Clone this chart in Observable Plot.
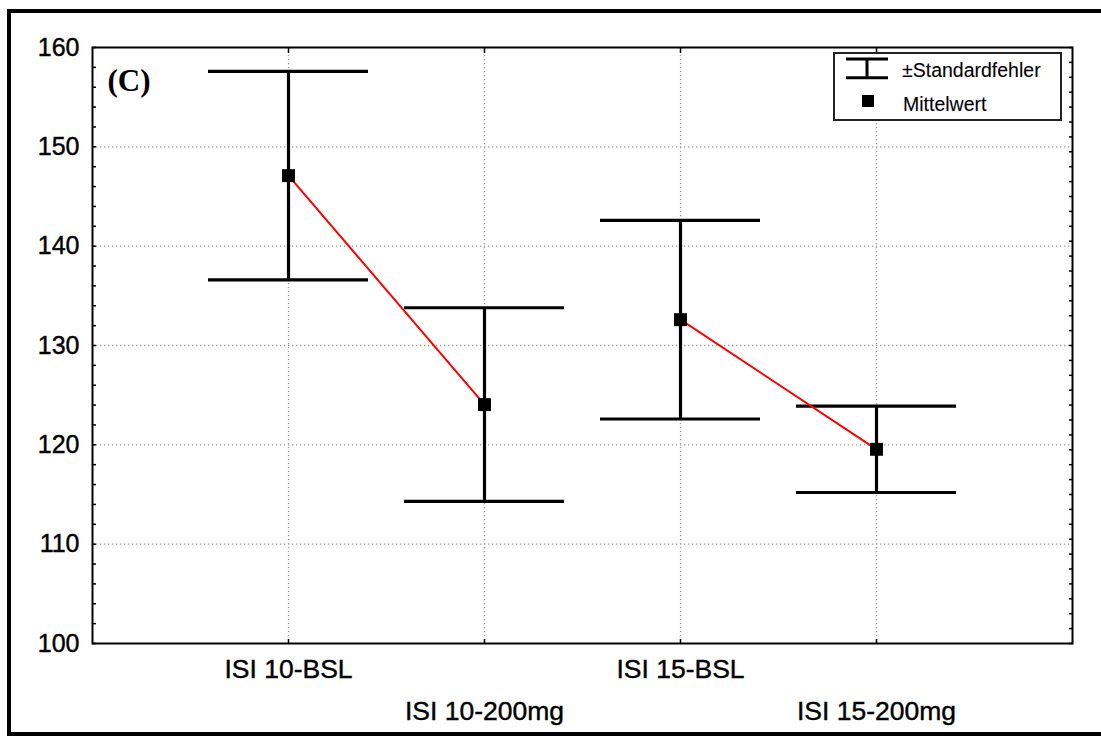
<!DOCTYPE html>
<html>
<head>
<meta charset="utf-8">
<script src="https://cdn.jsdelivr.net/npm/d3@7"></script>
<script src="https://cdn.jsdelivr.net/npm/@observablehq/plot@0.6"></script>
<style>
  html, body { margin: 0; padding: 0; background: #fff; }
  #wrap { position: relative; width: 1101px; height: 736px; overflow: hidden; background: #fff; }
  #chart { position: absolute; left: 0; top: 0; }
  #border { position: absolute; left: 7px; top: 9px; width: 1200px; height: 727px;
            box-sizing: border-box; border: 4px solid #000; pointer-events: none; }
  #legend { position: absolute; left: 833px; top: 52px; width: 229px; height: 69px;
            box-sizing: border-box; border: 2px solid #222; background: #fff; }
  #legend svg { position: absolute; left: 0; top: 0; }
  /* slightly heavier glyphs for the tick labels */
  #chart g[aria-label="y-axis tick label"] text,
  #chart g[aria-label="x-axis tick label"] text { stroke: #000; stroke-width: 0.4px; }
  #legend text { stroke: #000; stroke-width: 0.1px; }
</style>
</head>
<body>
<div id="wrap">
  <div id="chart"></div>
  <div id="legend"></div>
  <div id="border"></div>
</div>
<script>
// Conditions (inter-stimulus interval, baseline vs. 200 mg)
const conditions = ["ISI 10-BSL", "ISI 10-200mg", "ISI 15-BSL", "ISI 15-200mg"];
const groups = ["ISI 10", "ISI 10", "ISI 15", "ISI 15"];
// Means and standard errors
const means = [147.1, 124.05, 132.6, 119.55];
const stdErrors = [10.5, 9.75, 10.0, 4.35];
// Axis ticks
const yMajorTicks = [100, 110, 120, 130, 140, 150, 160];
const yGridTicks = [110, 120, 130, 140, 150];
const yLeftMinorTicks = d3.range(100, 160.01, 2);
const yRightMinorTicks = d3.range(100, 160.01, 1.5);

const rows = conditions.map((c, i) => ({
  cond: c,
  group: groups[i],
  mean: means[i],
  lo: means[i] - stdErrors[i],
  hi: means[i] + stdErrors[i]
}));

const font = "'Liberation Sans', Arial, sans-serif";
const dotted = { stroke: "#9a9a9a", strokeOpacity: 1, strokeDasharray: "1.3,2.7", strokeWidth: 1.3 };

const chart = Plot.plot({
  width: 1101,
  height: 736,
  marginLeft: 92,
  marginRight: 29,
  marginTop: 47,
  marginBottom: 93,
  style: { fontFamily: font, background: "transparent", color: "#000" },
  x: { type: "band", domain: conditions, paddingInner: 0.1837, paddingOuter: 0.5918, axis: null },
  y: { domain: [100, 160], axis: null },
  marks: [
    Plot.gridY(yGridTicks, dotted),
    Plot.gridX(conditions, dotted),
    // inward minor ticks on all four edges
    Plot.axisY(yLeftMinorTicks, { anchor: "left", label: null, tickSize: 4, dx: 4, tickFormat: () => "", strokeWidth: 1.5 }),
    Plot.axisY(yRightMinorTicks, { anchor: "right", label: null, tickSize: 4, dx: -4, tickFormat: () => "", strokeWidth: 1.5 }),
    Plot.axisX(conditions, { anchor: "bottom", label: null, tickSize: 4, dy: -4, tickFormat: () => "", strokeWidth: 1.5 }),
    Plot.axisX(conditions, { anchor: "top", label: null, tickSize: 5, dy: 5, tickFormat: () => "", strokeWidth: 1.5 }),
    // y tick labels
    Plot.axisY(yMajorTicks, { anchor: "left", label: null, tickSize: 0, tickPadding: 13, fontSize: 25, fill: "#000" }),
    // staggered category labels
    Plot.axisX(conditions.filter((d, i) => i % 2 === 0), { anchor: "bottom", label: null, tickSize: 0, tickPadding: 15.5, fontSize: 26.5, fill: "#000" }),
    Plot.axisX(conditions.filter((d, i) => i % 2 === 1), { anchor: "bottom", label: null, tickSize: 0, tickPadding: 57.5, fontSize: 26.5, fill: "#000" }),
    Plot.frame({ stroke: "#000", strokeWidth: 2 }),
    // error bars
    Plot.ruleX(rows, { x: "cond", y1: "lo", y2: "hi", stroke: "#000", strokeWidth: 3.2 }),
    Plot.tickY(rows, { x: "cond", y: "hi", stroke: "#000", strokeWidth: 3.2 }),
    Plot.tickY(rows, { x: "cond", y: "lo", stroke: "#000", strokeWidth: 3.2 }),
    // connecting lines within each ISI group
    Plot.line(rows, { x: "cond", y: "mean", z: "group", stroke: "#ff0000", strokeWidth: 2 }),
    // means
    Plot.dot(rows, { x: "cond", y: "mean", symbol: "square", r: 7.3, fill: "#000", stroke: "none" }),
    // panel label
    Plot.text(["(C)"], { frameAnchor: "top-left", dx: 15, dy: 21, text: d => d, lineAnchor: "top", textAnchor: "start",
                         fontFamily: "'Liberation Serif', 'Times New Roman', serif", fontWeight: "bold", fontSize: 31, fill: "#000" })
  ]
});
document.getElementById("chart").append(chart);

// Legend: standard-error symbol and mean marker
const legendSvg = d3.create("svg").attr("width", 225).attr("height", 65);
const lg = legendSvg.append("g").attr("transform", "translate(-2,-2)");
lg.append("line").attr("x1", 13).attr("x2", 55).attr("y1", 7).attr("y2", 7).attr("stroke", "#000").attr("stroke-width", 3);
lg.append("line").attr("x1", 13).attr("x2", 55).attr("y1", 25.7).attr("y2", 25.7).attr("stroke", "#000").attr("stroke-width", 3);
lg.append("line").attr("x1", 34).attr("x2", 34).attr("y1", 7).attr("y2", 25.7).attr("stroke", "#000").attr("stroke-width", 3);
lg.append("rect").attr("x", 29).attr("y", 43).attr("width", 12).attr("height", 12).attr("fill", "#000");
lg.append("text").attr("x", 69).attr("y", 25).attr("font-family", font).attr("font-size", 19.5).text("±Standardfehler");
lg.append("text").attr("x", 70).attr("y", 58.5).attr("font-family", font).attr("font-size", 19.5).text("Mittelwert");
document.getElementById("legend").append(legendSvg.node());
</script>
</body>
</html>
